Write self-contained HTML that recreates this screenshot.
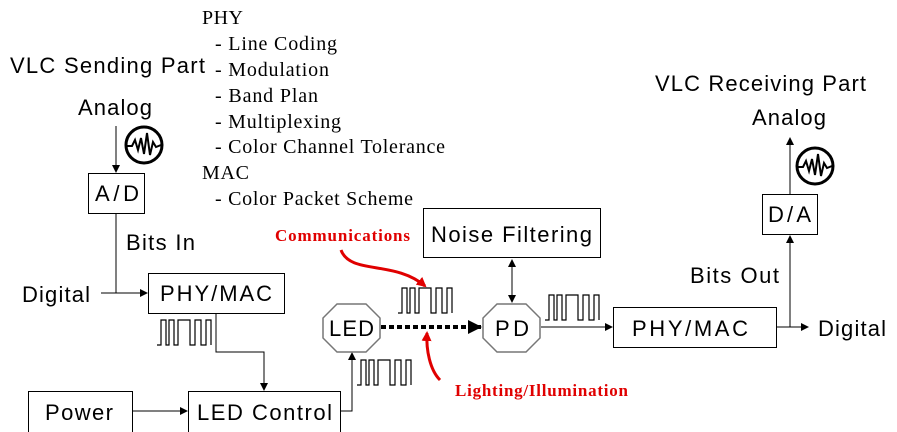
<!DOCTYPE html>
<html><head><meta charset="utf-8"><style>
html,body{margin:0;padding:0;background:#fff;}
svg{display:block}
.s{font-family:"Liberation Sans",sans-serif;font-size:22px;fill:#000}
.r{font-family:"Liberation Serif",serif;font-size:20px;fill:#000}
.red{font-family:"Liberation Serif",serif;font-size:17px;font-weight:bold;fill:#e00000}
</style></head><body>
<svg width="897" height="432" viewBox="0 0 897 432" xmlns="http://www.w3.org/2000/svg">
<defs>
<marker id="a" markerWidth="8" markerHeight="8" refX="7" refY="4" orient="auto" markerUnits="userSpaceOnUse"><path d="M0,0 L8,4 L0,8 z" fill="#000"/></marker>
<marker id="b" markerWidth="8" markerHeight="8" refX="1" refY="4" orient="auto" markerUnits="userSpaceOnUse"><path d="M8,0 L0,4 L8,8 z" fill="#000"/></marker>
<marker id="big" markerWidth="14" markerHeight="14" refX="13" refY="7" orient="auto" markerUnits="userSpaceOnUse"><path d="M0,0 L14,7 L0,14 z" fill="#000"/></marker>
<marker id="ra" markerWidth="10" markerHeight="10" refX="8" refY="5" orient="auto" markerUnits="userSpaceOnUse"><path d="M0,0 L10,5 L0,10 z" fill="#e00000"/></marker>
<g id="sq"><path d="M0,25 H4 V0 H9 V25 H12 V0 H17 V25 H21 V0 H33 V25 H38 V0 H44 V25 H49 V0 H54 V25" fill="none" stroke="#000" stroke-width="1.2"/></g>
<g id="wv"><circle cx="0" cy="0" r="18" fill="#fff" stroke="#000" stroke-width="3"/><path d="M-17,1 L-12,1 -9,-5 -6,5 -3,-7 0,9 3,-12 6,10 9,-3 12,2 17,0" fill="none" stroke="#000" stroke-width="2"/></g>
</defs>

<text class="s" x="10" y="73" textLength="195">VLC Sending Part</text>
<text class="r" x="202" y="24" textLength="41">PHY</text>
<text class="r" x="215" y="50" textLength="122">- Line Coding</text>
<text class="r" x="215" y="76" textLength="114">- Modulation</text>
<text class="r" x="215" y="102" textLength="103">- Band Plan</text>
<text class="r" x="215" y="128" textLength="126">- Multiplexing</text>
<text class="r" x="215" y="153" textLength="230">- Color Channel Tolerance</text>
<text class="r" x="202" y="179" textLength="47">MAC</text>
<text class="r" x="215" y="205" textLength="198">- Color Packet Scheme</text>

<text class="s" x="78" y="115" textLength="74">Analog</text>
<use href="#wv" x="144" y="145"/>
<line x1="116" y1="126" x2="116" y2="172" stroke="#000" marker-end="url(#a)"/>
<rect x="88.5" y="173.5" width="56" height="40" fill="none" stroke="#000"/>
<text class="s" x="95" y="201" textLength="44">A/D</text>
<text class="s" x="126" y="250" textLength="69">Bits In</text>
<polyline points="116,214 116,293" fill="none" stroke="#000"/>
<text class="s" x="22" y="302" textLength="68">Digital</text>
<line x1="101" y1="293" x2="147" y2="293" stroke="#000" marker-end="url(#a)"/>
<rect x="148.5" y="273.5" width="136" height="40" fill="none" stroke="#000"/>
<text class="s" x="160" y="301" textLength="112">PHY/MAC</text>
<use href="#sq" x="157" y="320"/>
<polyline points="216,314 216,352 264,352 264,390" fill="none" stroke="#000" marker-end="url(#a)"/>
<rect x="28.5" y="391.5" width="104" height="42" fill="none" stroke="#000"/>
<text class="s" x="45" y="420" textLength="68">Power</text>
<line x1="133" y1="411" x2="187" y2="411" stroke="#000" marker-end="url(#a)"/>
<rect x="188.5" y="391.5" width="152" height="42" fill="none" stroke="#000"/>
<text class="s" x="197" y="420" textLength="135">LED Control</text>
<polyline points="341,411 352,411 352,353" fill="none" stroke="#000" marker-end="url(#a)"/>

<polygon points="337,304 366,304 380,318 380,338 366,352 337,352 323,338 323,318" fill="#fff" stroke="#777" stroke-width="1.5"/>
<text class="s" x="329" y="336" textLength="45">LED</text>
<use href="#sq" x="357" y="360"/>
<use href="#sq" x="398" y="288"/>
<line x1="381" y1="327" x2="481" y2="327" stroke="#000" stroke-width="4" stroke-dasharray="5,3" marker-end="url(#big)"/>

<text class="red" x="275" y="241" textLength="135">Communications</text>
<path d="M341,250 C350,275 395,260 425,286" fill="none" stroke="#e00000" stroke-width="3" marker-end="url(#ra)"/>
<text class="red" x="455" y="396" textLength="173">Lighting/Illumination</text>
<path d="M440,380 C430,370 426,350 427,333" fill="none" stroke="#e00000" stroke-width="3" marker-end="url(#ra)"/>

<polygon points="497,304 526,304 540,318 540,338 526,352 497,352 483,338 483,318" fill="#fff" stroke="#777" stroke-width="1.5"/>
<text class="s" x="495" y="336" textLength="34">PD</text>
<rect x="423.5" y="208.5" width="177" height="49" fill="none" stroke="#000"/>
<text class="s" x="431" y="242" textLength="161">Noise Filtering</text>
<line x1="512" y1="260" x2="512" y2="302" stroke="#000" marker-end="url(#a)" marker-start="url(#b)"/>
<use href="#sq" x="545" y="295"/>
<line x1="541" y1="327" x2="612" y2="327" stroke="#000" marker-end="url(#a)"/>
<rect x="613.5" y="307.5" width="163" height="40" fill="none" stroke="#000"/>
<text class="s" x="632" y="336" textLength="116">PHY/MAC</text>
<line x1="777" y1="327" x2="808" y2="327" stroke="#000" marker-end="url(#a)"/>
<text class="s" x="818" y="336" textLength="68">Digital</text>
<text class="s" x="690" y="283" textLength="89">Bits Out</text>
<line x1="790" y1="327" x2="790" y2="236" stroke="#000" marker-end="url(#a)"/>
<rect x="762.5" y="194.5" width="55" height="40" fill="none" stroke="#000"/>
<text class="s" x="768" y="222" textLength="43">D/A</text>
<line x1="790" y1="194" x2="790" y2="138" stroke="#000" marker-end="url(#a)"/>
<use href="#wv" x="815" y="166"/>
<text class="s" x="752" y="125" textLength="74">Analog</text>
<text class="s" x="655" y="91" textLength="211">VLC Receiving Part</text>
</svg>
</body></html>
